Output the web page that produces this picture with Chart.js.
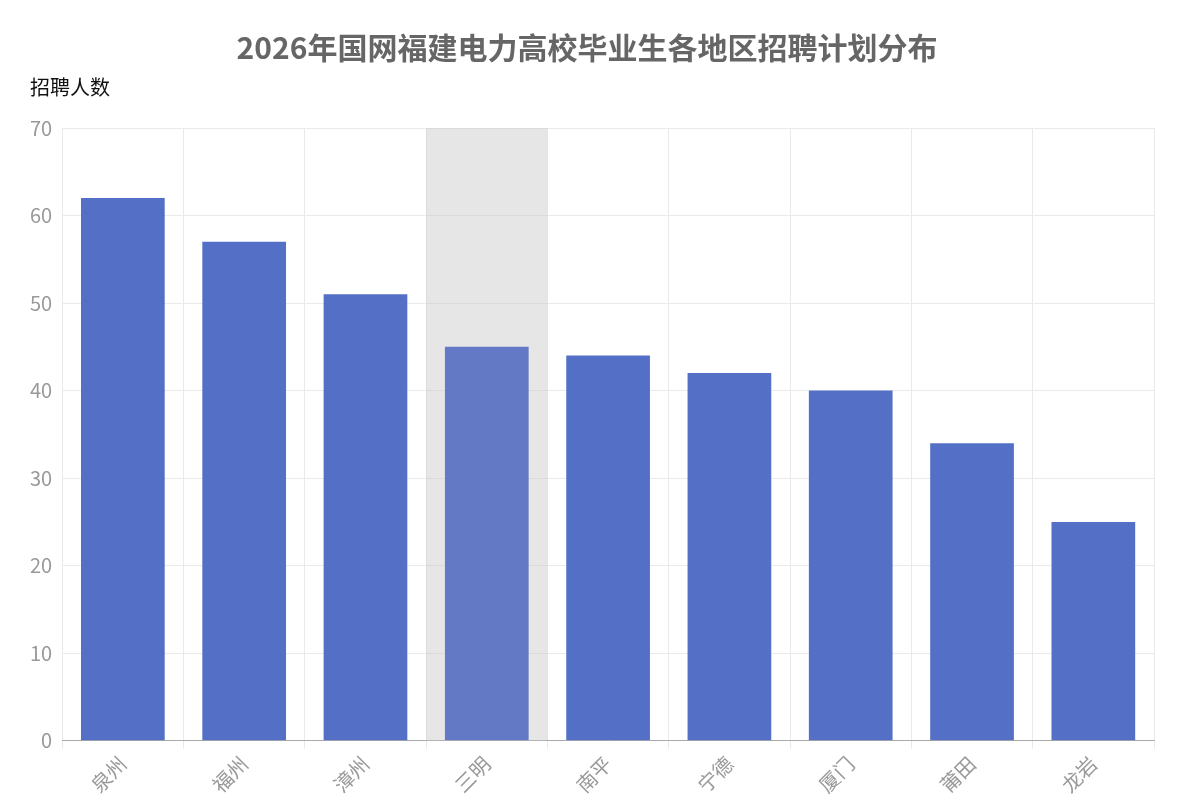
<!DOCTYPE html>
<html><head><meta charset="utf-8">
<script src="https://cdn.jsdelivr.net/npm/chart.js@4/dist/chart.umd.min.js"></script>
<style>html,body{margin:0;padding:0;background:#fff}</style>
</head><body><canvas id="c" width="1200" height="800" style="width:1200px;height:800px;display:block"></canvas>
<script>
const categories = ['泉州','福州','漳州','三明','南平','宁德','厦门','莆田','龙岩'];
const values = [62,57,51,45,44,42,40,34,25];
const highlightIndex = 3;
const F = '"Noto Sans CJK SC","Noto Sans",sans-serif';
const bandPlugin = {
  id:'band',
  beforeDatasetsDraw(chart){
    const x = chart.scales.x, a = chart.chartArea, ctx = chart.ctx;
    const w = (a.right - a.left) / categories.length;
    const cx = x.getPixelForValue(highlightIndex);
    ctx.save(); ctx.fillStyle = 'rgba(200,200,200,0.45)';
    ctx.fillRect(cx - w/2, a.top, w, a.bottom - a.top); ctx.restore();
  },
  afterDraw(chart){
    const ctx = chart.ctx; ctx.save();
    ctx.font = '20px ' + F; ctx.fillStyle = '#111'; ctx.textBaseline = 'middle';
    ctx.fillText('招聘人数', 30, 87); ctx.restore();
  }
};
new Chart(document.getElementById('c'), {
  type:'bar',
  data:{labels:categories, datasets:[{data:values,
    backgroundColor:values.map((v,i)=>i===highlightIndex?'#6479c6':'#5470c6'),
    categoryPercentage:1, barPercentage:0.69}]},
  options:{responsive:false, animation:false, devicePixelRatio:1,
    layout:{padding:{left:20,right:46,top:10,bottom:0}},
    plugins:{legend:{display:false}, tooltip:{enabled:false},
      title:{display:true, text:'2026年国网福建电力高校毕业生各地区招聘计划分布',
        color:'#666', font:{family:F, size:30, weight:'bold'}, padding:{top:20,bottom:62}}},
    scales:{
      x:{grid:{color:'#eaeaea', offset:true}, border:{color:'#aaa'},
        ticks:{color:'#999', font:{family:F,size:20}, maxRotation:45, minRotation:45}},
      y:{min:0,max:70, ticks:{stepSize:10, color:'#999', font:{family:F,size:20}, padding:10},
        grid:{color:'#eaeaea', drawTicks:false}, border:{display:false}}
    }},
  plugins:[bandPlugin]
});
</script></body></html>
